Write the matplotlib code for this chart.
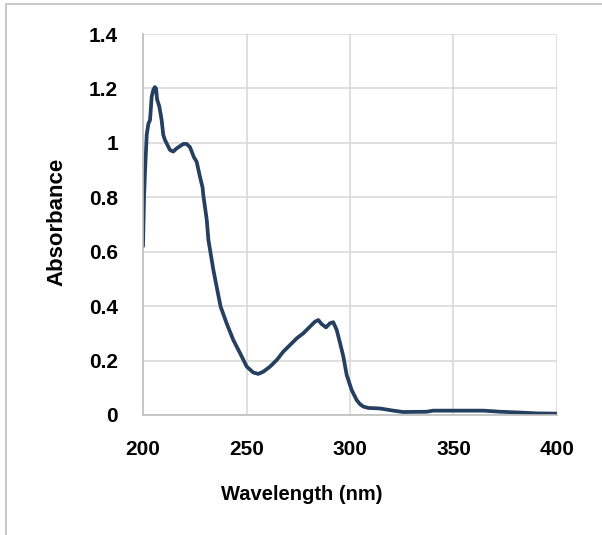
import matplotlib
matplotlib.use("Agg")
import matplotlib.pyplot as plt
from matplotlib.patches import Rectangle

wavelength = [200.0, 200.5, 201.0, 201.8, 202.6, 203.4, 204.2, 205.0, 205.7, 206.3, 206.8, 207.9,
              209.0, 209.8, 210.6, 213.0, 214.6, 216.3, 219.5, 221.1, 222.7, 224.6, 225.9,
              227.5, 228.8, 229.1, 230.8, 231.6, 234.0, 235.9, 237.5, 240.4, 243.6, 246.9,
              250.1, 253.3, 255.7, 258.1, 261.4, 264.6, 267.8, 271.0, 274.3, 277.4, 280.7,
              283.1, 284.7, 286.3, 288.4, 290.3, 291.9, 293.6, 295.2, 296.8, 298.4, 300.8,
              303.2, 304.8, 306.4, 308.8, 314.5, 320.9, 325.7, 337.0, 340.2, 348.3, 364.4,
              372.5, 382.1, 390.2, 400.0]
absorbance = [0.62, 0.80, 0.90, 1.03, 1.07, 1.084, 1.17, 1.195, 1.205, 1.20, 1.16, 1.133,
              1.084, 1.029, 1.011, 0.974, 0.968, 0.980, 0.996, 0.996, 0.984, 0.947, 0.931,
              0.876, 0.835, 0.810, 0.717, 0.643, 0.533, 0.459, 0.398, 0.337, 0.276, 0.227,
              0.178, 0.156, 0.151, 0.159, 0.178, 0.202, 0.233, 0.257, 0.282, 0.300, 0.325,
              0.343, 0.349, 0.334, 0.322, 0.337, 0.341, 0.312, 0.264, 0.214, 0.147, 0.092,
              0.055, 0.040, 0.031, 0.026, 0.024, 0.016, 0.011, 0.012, 0.016, 0.016, 0.016,
              0.012, 0.009, 0.006, 0.005]

x_ticks = [200, 250, 300, 350, 400]
y_ticks = [0, 0.2, 0.4, 0.6, 0.8, 1.0, 1.2, 1.4]
y_tick_labels = ["0", "0.2", "0.4", "0.6", "0.8", "1", "1.2", "1.4"]

plt.rcParams['font.family'] = ['Liberation Sans', 'DejaVu Sans']

fig = plt.figure(figsize=(6.02, 5.35), dpi=100)
fig.patch.set_facecolor('white')
# outer frame
fig.patches.append(Rectangle((6/602, -0.1), 1.2, 1 - 4/535 + 0.1, transform=fig.transFigure,
                             fill=False, edgecolor='#BFBFBF', linewidth=1.2))

ax = fig.add_axes([143/602, 1 - 415/535, (557 - 143)/602, (415 - 34)/535])
ax.plot(wavelength, absorbance, color='#243F60', linewidth=2.7,
        solid_joinstyle='round', solid_capstyle='round')
ax.set_xlim(200, 400)
ax.set_ylim(0, 1.4)
ax.set_xticks(x_ticks)
ax.set_xticklabels([str(t) for t in x_ticks])
ax.set_yticks(y_ticks)
ax.set_yticklabels(y_tick_labels)
ax.grid(True, color='#D9D9D9', linewidth=1.2)
ax.set_axisbelow(True)
for s in ['top', 'right']:
    ax.spines[s].set_visible(False)
for s in ['left', 'bottom']:
    ax.spines[s].set_color('#BFBFBF')
    ax.spines[s].set_linewidth(1.2)
ax.tick_params(length=0, labelsize=15, pad=18)
for lab in ax.get_xticklabels() + ax.get_yticklabels():
    lab.set_fontweight('bold')

fig.text(302/602, 1 - 494/535, 'Wavelength (nm)', ha='center', va='center',
         fontsize=14.5, fontweight='bold')
fig.text(57/602, 1 - 222/535, 'Absorbance', ha='center', va='center', rotation=90,
         fontsize=16, fontweight='bold')

fig.savefig('out.png', dpi=100)
